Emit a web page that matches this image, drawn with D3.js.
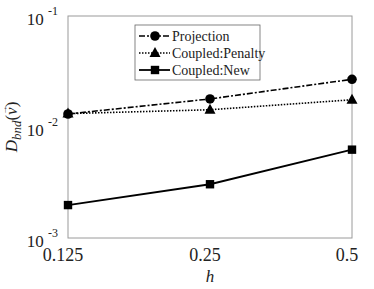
<!DOCTYPE html>
<html>
<head>
<meta charset="utf-8">
<script src="https://cdn.jsdelivr.net/npm/d3@7"></script>
<style>
  body { margin: 0; background: #fff; }
</style>
</head>
<body>
<div id="chart"></div>
<script>
// data
let hValues = [0.125, 0.25, 0.5];
let projection = [0.0131, 0.0179, 0.0269];
let penalty = [0.0132, 0.0143, 0.0176];
let coupledNew = [0.00198, 0.00305, 0.00625];
let yTickExp = [-1, -2, -3];
let xTickLabels = ["0.125", "0.25", "0.5"];

let serif = "'Liberation Serif'";
let ink = "#222";

let svgWidth = 374;
let svgHeight = 289;
let margin = { top: 16, right: 22, bottom: 51, left: 68 };
let width = svgWidth - margin.left - margin.right;
let height = svgHeight - margin.top - margin.bottom;

let svg = d3.select("#chart").append("svg")
  .attr("width", svgWidth)
  .attr("height", svgHeight);

let chartGroup = svg.append("g")
  .attr("transform", `translate(${margin.left}, ${margin.top})`);

let x = d3.scaleLog().base(2).domain([0.125, 0.5]).range([0, width]);
let y = d3.scaleLog().domain([0.001, 0.1]).range([height, 0]);

// frame
chartGroup.append("rect")
  .attr("width", width).attr("height", height)
  .attr("fill", "none").attr("stroke", "#9a9a9a").attr("stroke-width", 1);

// y tick labels 10^n
yTickExp.forEach(function(e) {
  let t = chartGroup.append("text")
    .attr("x", -10)
    .attr("y", y(Math.pow(10, e)) + 9)
    .attr("text-anchor", "end")
    .attr("fill", ink)
    .style("font-family", serif)
    .style("font-size", "17px");
  t.append("tspan").text("10 ");
  t.append("tspan").attr("dy", -10).style("font-size", "12px").text(e < 0 ? "-" + (-e) : e);
});

// x tick labels
hValues.forEach(function(h, i) {
  chartGroup.append("text")
    .attr("x", x(h) - 5)
    .attr("y", height + 23)
    .attr("text-anchor", "middle")
    .attr("fill", ink)
    .style("font-family", serif)
    .style("font-size", "18px")
    .text(xTickLabels[i]);
});

// axis titles
chartGroup.append("text")
  .attr("x", width / 2)
  .attr("y", height + 44)
  .attr("text-anchor", "middle")
  .attr("fill", ink)
  .style("font-family", serif)
  .style("font-size", "17px")
  .style("font-style", "italic")
  .text("h");

// y title: D_bnd(v with arrow)
let yLab = svg.append("g")
  .attr("transform", `translate(17, ${margin.top + height / 2}) rotate(-90)`);
let yText = yLab.append("text")
  .attr("x", 0)
  .attr("y", 0)
  .attr("text-anchor", "middle")
  .attr("fill", ink)
  .style("font-family", serif)
  .style("font-size", "17px");
yText.append("tspan").style("font-style", "italic").text("D");
yText.append("tspan").attr("dy", 4).style("font-size", "13px").style("font-style", "italic").text("bnd");
yText.append("tspan").attr("dy", -4).text("(");
yText.append("tspan").style("font-style", "italic").text("v");
yText.append("tspan").text(")");
// little arrow over the v, placed from the measured glyph position
let vStart = yText.node().getStartPositionOfChar(5).x;
let vEnd = yText.node().getEndPositionOfChar(5).x;
yLab.append("text")
  .attr("x", (vStart + vEnd) / 2 + 1)
  .attr("y", -10)
  .attr("text-anchor", "middle")
  .attr("fill", ink)
  .style("font-family", serif)
  .style("font-size", "9px")
  .text("\u2192");

let series = [
  { name: "Projection", values: projection, dash: "6,2,2,2", width: 1.6, marker: "circle" },
  { name: "Coupled:Penalty", values: penalty, dash: "1.5,1.5", width: 1.6, marker: "triangle" },
  { name: "Coupled:New", values: coupledNew, dash: null, width: 1.8, marker: "square" }
];

let line = d3.line().x((d, i) => x(hValues[i])).y(d => y(d));

function drawMarker(g, type, cx, cy) {
  if (type === "circle") {
    g.append("circle").attr("cx", cx).attr("cy", cy).attr("r", 4.8).attr("fill", "#000");
  } else if (type === "triangle") {
    g.append("path")
      .attr("d", `M${cx},${cy - 6}L${cx + 5.5},${cy + 4}L${cx - 5.5},${cy + 4}Z`)
      .attr("fill", "#000");
  } else {
    g.append("rect").attr("x", cx - 4.2).attr("y", cy - 4.2).attr("width", 8.4).attr("height", 8.4).attr("fill", "#000");
  }
}

series.forEach(function(s) {
  chartGroup.append("path")
    .datum(s.values)
    .attr("d", line)
    .attr("fill", "none")
    .attr("stroke", "#000")
    .attr("stroke-width", s.width)
    .attr("stroke-dasharray", s.dash);
  s.values.forEach(function(v, i) {
    drawMarker(chartGroup, s.marker, x(hValues[i]), y(v));
  });
});

// legend
let legend = svg.append("g").attr("transform", "translate(135, 25)");
legend.append("rect")
  .attr("width", 125).attr("height", 55)
  .attr("fill", "#fff").attr("stroke", "#666").attr("stroke-width", 0.8);

series.forEach(function(s, i) {
  let ly = 11 + i * 17;
  legend.append("line")
    .attr("x1", 4).attr("x2", 35).attr("y1", ly).attr("y2", ly)
    .attr("stroke", "#000").attr("stroke-width", s.width)
    .attr("stroke-dasharray", s.dash);
  drawMarker(legend, s.marker, 20, ly);
  legend.append("text")
    .attr("x", 37).attr("y", ly + 4.5)
    .attr("fill", ink)
    .style("font-family", serif)
    .style("font-size", "14px")
    .text(s.name);
});
</script>
</body>
</html>
